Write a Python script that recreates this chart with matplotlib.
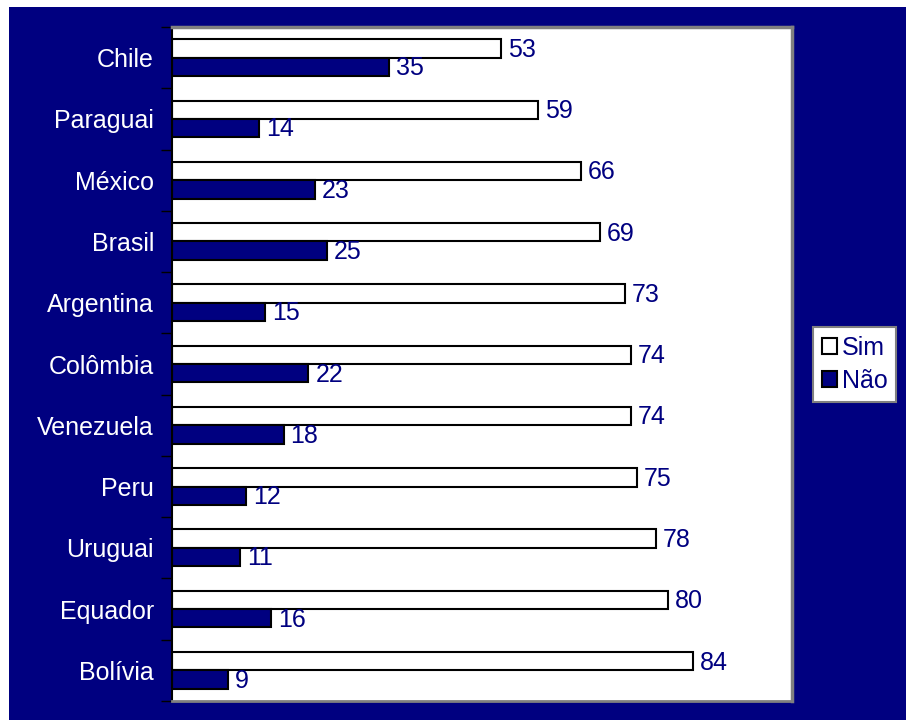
import numpy as np
import matplotlib.pyplot as plt
from matplotlib import patches

plt.rcParams['font.family'] = ['Liberation Sans', 'DejaVu Sans']

# dados
paises = ['Chile', 'Paraguai', 'México', 'Brasil', 'Argentina', 'Colômbia',
          'Venezuela', 'Peru', 'Uruguai', 'Equador', 'Bolívia']
sim = [53, 59, 66, 69, 73, 74, 74, 75, 78, 80, 84]
nao = [35, 14, 23, 25, 15, 22, 18, 12, 11, 16, 9]

azul = '#000080'

fig = plt.figure(figsize=(9.06, 7.2), dpi=100)
fig.patch.set_facecolor('white')
# fundo azul
fig.patches.append(patches.Rectangle((9 / 906, 0), 1, 1 - 7 / 720,
                                     transform=fig.transFigure,
                                     facecolor=azul, edgecolor='none', zorder=-5))

ax = fig.add_axes([172 / 906, 1 - 701 / 720, (792 - 172) / 906, (701 - 27) / 720])
ax.set_facecolor('white')

y = np.arange(len(paises))
h = 0.3
b1 = ax.barh(y - h / 2, sim, height=h, color='white', edgecolor='black', linewidth=1.5, label='Sim')
b2 = ax.barh(y + h / 2, nao, height=h, color=azul, edgecolor='black', linewidth=1.5, label='Não')

for i in range(len(paises)):
    ax.annotate(str(sim[i]), xy=(sim[i], y[i] - h / 2), xytext=(5, -1),
                textcoords='offset points', va='center', ha='left',
                fontsize=18, color=azul)
    ax.annotate(str(nao[i]), xy=(nao[i], y[i] + h / 2), xytext=(5, -1),
                textcoords='offset points', va='center', ha='left',
                fontsize=18, color=azul)

ax.set_xlim(0, 100)
ax.set_ylim(len(paises) - 0.5, -0.5)
ax.set_xticks([])
ax.set_yticks(y)
ax.set_yticklabels(paises, fontsize=18, color='white')
ax.tick_params(axis='y', which='major', length=0, pad=13)
ax.set_yticks(np.arange(len(paises) + 1) - 0.5, minor=True)
ax.tick_params(axis='y', which='minor', length=8, width=1, color='black', direction='out')

ax.spines['left'].set_color('black')
ax.spines['left'].set_linewidth(1.5)
ax.spines['bottom'].set_color('#808080')
ax.spines['bottom'].set_linewidth(2)
for s in ['top', 'right']:
    ax.spines[s].set_color('#808080')
    ax.spines[s].set_linewidth(2.5)

leg = fig.legend(handles=[b1, b2], loc='center left',
                 bbox_to_anchor=(813 / 906, 1 - 364.5 / 720),
                 fontsize=18, frameon=True, fancybox=False, framealpha=1,
                 handlelength=0.6, handleheight=0.6, handletextpad=0.2,
                 borderpad=0.35, labelspacing=0.35, borderaxespad=0)
leg.get_frame().set_edgecolor('#808080')
leg.get_frame().set_linewidth(1.5)
for t in leg.get_texts():
    t.set_color(azul)

fig.savefig('out.png', dpi=100, facecolor=fig.get_facecolor())
